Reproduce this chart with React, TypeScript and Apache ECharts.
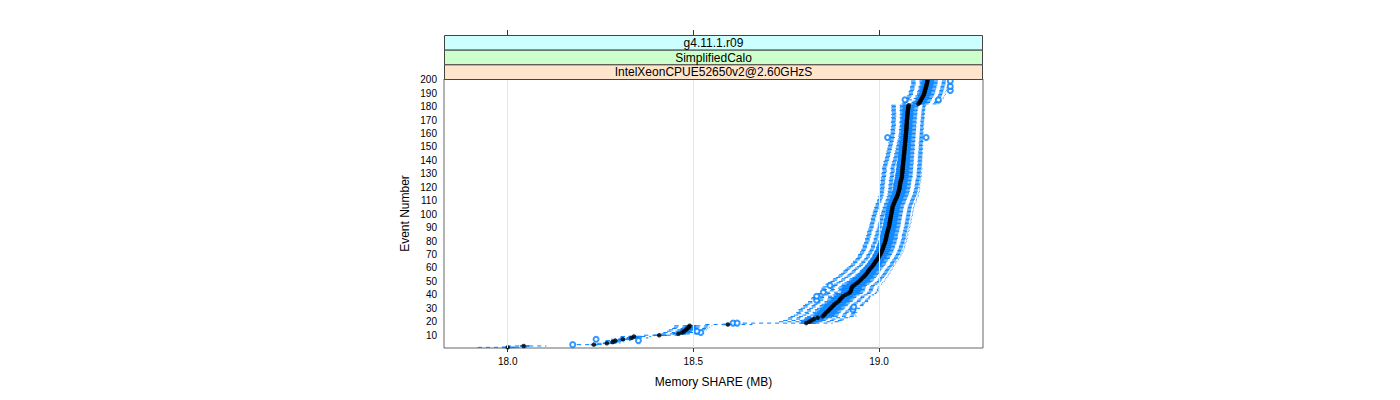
import React, { useEffect, useRef } from "react";
import * as echarts from "echarts";

// ---- data ----
const stripLabels = ["g4.11.1.r09", "SimplifiedCalo", "IntelXeonCPUE52650v2@2.60GHzS"];
const xTickValues = [18.0, 18.5, 19.0];
const yTickValues = [10, 20, 30, 40, 50, 60, 70, 80, 90, 100, 110, 120, 130, 140, 150, 160, 170, 180, 190, 200];

// median per event (1..200), MB
const medians = [
  18.000, 18.043, 18.232, 18.267, 18.283, 18.290, 18.310, 18.333, 18.340, 18.408,
  18.460, 18.470, 18.475, 18.480, 18.484, 18.488, 18.490, 18.593, 18.804, 18.812,
  18.818, 18.825, 18.835, 18.848, 18.852, 18.855, 18.858, 18.863, 18.866, 18.870,
  18.873, 18.877, 18.880, 18.885, 18.890, 18.894, 18.896, 18.900, 18.903, 18.910,
  18.917, 18.922, 18.924, 18.925, 18.926, 18.928, 18.932, 18.937, 18.942, 18.946,
  18.950, 18.953, 18.957, 18.961, 18.964, 18.967, 18.970, 18.972, 18.975, 18.978,
  18.981, 18.984, 18.987, 18.989, 18.991, 18.994, 18.997, 18.999, 19.001, 19.003,
  19.005, 19.007, 19.008, 19.010, 19.011, 19.012, 19.013, 19.015, 19.016, 19.017,
  19.018, 19.019, 19.020, 19.020, 19.021, 19.022, 19.023, 19.024, 19.025, 19.026,
  19.027, 19.028, 19.028, 19.029, 19.030, 19.030, 19.031, 19.032, 19.032, 19.033,
  19.034, 19.034, 19.035, 19.036, 19.036, 19.037, 19.039, 19.040, 19.042, 19.043,
  19.045, 19.047, 19.048, 19.050, 19.051, 19.052, 19.053, 19.054, 19.055, 19.056,
  19.056, 19.057, 19.057, 19.058, 19.059, 19.060, 19.061, 19.062, 19.062, 19.062,
  19.063, 19.063, 19.063, 19.064, 19.064, 19.064, 19.065, 19.065, 19.065, 19.066,
  19.066, 19.067, 19.067, 19.067, 19.068, 19.068, 19.068, 19.069, 19.069, 19.069,
  19.070, 19.070, 19.070, 19.071, 19.071, 19.071, 19.072, 19.072, 19.072, 19.073,
  19.073, 19.073, 19.074, 19.074, 19.074, 19.074, 19.075, 19.075, 19.075, 19.075,
  19.076, 19.076, 19.076, 19.077, 19.077, 19.077, 19.078, 19.078, 19.079, 19.079,
  19.080, 19.106, 19.109, 19.111, 19.113, 19.115, 19.117, 19.119, 19.121, 19.122,
  19.123, 19.124, 19.125, 19.126, 19.127, 19.128, 19.129, 19.130, 19.130, 19.131,
];

// distances from the median, in thousandths of a MB
const whiskerLowOff = [
  80, 45, 45, 25, 20, 25, 30, 30, 35, 40,
  45, 50, 45, 45, 40, 40, 40, 60, 170, 80,
  75, 70, 78, 85, 80, 75, 80, 78, 82, 80,
  76, 80, 78, 75, 80, 55, 78, 80, 62, 78,
  80, 65, 78, 76, 80, 78, 55, 80, 78, 76,
  74, 75, 72, 70, 70, 68, 66, 66, 65, 64,
  62, 60, 61, 58, 60, 57, 58, 56, 57, 58,
  56, 57, 55, 56, 54, 55, 56, 54, 55, 53,
  54, 55, 53, 54, 52, 53, 54, 52, 53, 51,
  52, 53, 51, 52, 50, 51, 52, 50, 51, 49,
  50, 48, 49, 47, 48, 46, 47, 48, 46, 47,
  48, 47, 49, 48, 50, 49, 51, 50, 52, 51,
  52, 53, 51, 52, 54, 53, 55, 54, 53, 55,
  54, 52, 53, 55, 54, 52, 53, 51, 52, 50,
  49, 50, 48, 47, 49, 46, 47, 45, 46, 44,
  45, 43, 44, 42, 43, 41, 40, 42, 41, 40,
  41, 40, 42, 40, 41, 39, 40, 42, 41, 40,
  41, 42, 40, 43, 41, 42, 44, 43, 45, 44,
  46, 44, 43, 42, 35, 43, 41, 42, 40, 41,
  42, 41, 40, 41, 42, 40, 41, 42, 43, 42,
];
const boxLowOff = [
  15, 10, 8, 10, 8, 10, 12, 12, 14, 15,
  15, 15, 14, 15, 12, 12, 12, 15, 15, 22,
  25, 24, 26, 25, 26, 24, 25, 26, 25, 26,
  24, 25, 26, 24, 25, 22, 25, 26, 24, 25,
  26, 24, 25, 24, 26, 25, 22, 25, 24, 25,
  24, 23, 22, 22, 21, 21, 20, 20, 20, 19,
  19, 20, 19, 18, 19, 18, 19, 18, 18, 19,
  18, 19, 18, 17, 18, 18, 17, 18, 17, 18,
  17, 18, 17, 17, 16, 17, 18, 16, 17, 16,
  17, 16, 17, 16, 16, 17, 16, 15, 16, 16,
  16, 15, 16, 15, 16, 15, 16, 15, 16, 15,
  16, 16, 17, 16, 17, 16, 17, 16, 17, 17,
  17, 18, 17, 17, 18, 17, 18, 17, 18, 17,
  17, 16, 17, 17, 16, 16, 17, 16, 16, 15,
  15, 16, 15, 15, 16, 15, 14, 15, 14, 15,
  14, 14, 15, 14, 14, 13, 14, 14, 13, 14,
  13, 14, 13, 13, 14, 13, 13, 14, 13, 13,
  14, 13, 14, 14, 13, 14, 14, 15, 14, 15,
  15, 14, 14, 13, 14, 14, 13, 14, 14, 13,
  14, 13, 14, 14, 13, 14, 13, 14, 14, 13,
];
const boxHighOff = [
  20, 15, 10, 15, 12, 15, 18, 18, 20, 20,
  20, 20, 18, 20, 18, 18, 18, 15, 25, 25,
  28, 26, 28, 30, 28, 27, 28, 25, 28, 27,
  26, 28, 27, 26, 28, 25, 27, 28, 26, 27,
  28, 25, 27, 26, 27, 26, 25, 26, 25, 26,
  25, 24, 24, 23, 23, 22, 22, 22, 21, 21,
  21, 22, 21, 20, 21, 20, 21, 20, 20, 21,
  20, 21, 20, 20, 21, 20, 20, 21, 20, 20,
  20, 21, 20, 20, 19, 20, 21, 19, 20, 19,
  20, 19, 20, 19, 19, 20, 19, 19, 20, 19,
  19, 20, 19, 19, 20, 19, 19, 20, 19, 19,
  19, 18, 19, 18, 19, 18, 19, 18, 18, 19,
  18, 18, 19, 18, 18, 17, 18, 18, 17, 18,
  17, 18, 17, 17, 18, 17, 17, 18, 17, 17,
  17, 16, 17, 16, 17, 16, 16, 17, 16, 16,
  16, 16, 15, 16, 16, 15, 16, 15, 16, 15,
  15, 16, 15, 15, 16, 15, 15, 16, 15, 15,
  16, 15, 16, 15, 16, 15, 16, 15, 16, 16,
  16, 17, 18, 17, 18, 17, 18, 18, 17, 18,
  18, 17, 18, 18, 17, 18, 18, 17, 18, 17,
];
const whiskerHighOff = [
  50, 60, 20, 35, 30, 40, 40, 45, 45, 50,
  50, 35, 20, 55, 55, 55, 60, 65, 70, 80,
  85, 80, 85, 90, 85, 80, 82, 60, 60, 78,
  55, 80, 78, 76, 80, 75, 78, 75, 74, 76,
  75, 72, 74, 72, 72, 70, 70, 70, 68, 68,
  66, 65, 64, 63, 62, 62, 60, 60, 60, 58,
  58, 57, 58, 56, 57, 58, 56, 57, 58, 56,
  57, 58, 56, 57, 58, 56, 57, 55, 56, 57,
  56, 57, 55, 56, 57, 55, 56, 57, 55, 56,
  57, 55, 56, 58, 56, 57, 55, 56, 58, 57,
  56, 57, 58, 56, 57, 58, 57, 56, 58, 57,
  56, 55, 57, 56, 54, 55, 56, 54, 55, 53,
  54, 52, 53, 54, 52, 53, 51, 52, 53, 51,
  52, 50, 51, 52, 50, 51, 49, 50, 51, 49,
  50, 49, 48, 50, 48, 49, 47, 48, 49, 47,
  48, 46, 47, 48, 46, 47, 45, 46, 47, 45,
  46, 44, 45, 46, 44, 45, 46, 44, 45, 46,
  45, 46, 44, 45, 46, 44, 45, 46, 44, 45,
  46, 55, 56, 57, 40, 58, 56, 57, 58, 56,
  57, 58, 56, 57, 58, 56, 57, 58, 56, 55,
];

const outlierEvents = [3, 6, 7, 12, 13, 19, 19, 29, 31, 36, 39, 42, 47, 157, 157, 185, 185, 192, 195, 199];
const outlierValues = [18.175, 18.352, 18.238, 18.520, 18.510, 18.607, 18.618, 18.930, 18.932, 18.832, 18.832, 18.850, 18.868, 19.023, 19.127, 19.070, 19.160, 19.192, 19.192, 19.192];

// ---- layout ----
const GRID = { left: 444, top: 79, width: 539, height: 269 };
const STRIP_H = 44 / 3;
const FONT = "'Liberation Sans', Arial, Helvetica, sans-serif";
const BLUE = "#0080ff";
const stripColors = ["#ccffff", "#ccffcc", "#ffe5cc"];

export default function App() {
  const ref = useRef<HTMLDivElement>(null);

  useEffect(() => {
    if (!ref.current) return;
    const chart = echarts.init(ref.current, undefined, { renderer: "svg" });

    const boxData = medians.map((m, i) => [
      i + 1,
      m - whiskerLowOff[i] / 1000,
      m - boxLowOff[i] / 1000,
      m,
      m + boxHighOff[i] / 1000,
      m + whiskerHighOff[i] / 1000,
    ]);
    const medianData = medians.map((m, i) => [m, i + 1]);
    const outlierData = outlierEvents.map((e, i) => [outlierValues[i], e]);

    const strips: any[] = [];
    stripLabels.forEach((label, i) => {
      const y = GRID.top - 3 * STRIP_H + i * STRIP_H;
      strips.push({
        type: "rect",
        shape: { x: GRID.left + 0.5, y: y + 0.5, width: GRID.width - 1, height: STRIP_H },
        style: { fill: stripColors[i], stroke: "#444", lineWidth: 1 },
        z: 10,
      });
      strips.push({
        type: "text",
        x: GRID.left + GRID.width / 2,
        y: y + STRIP_H / 2 + 0.5,
        style: {
          text: label,
          fontSize: 12,
          fontFamily: FONT,
          fill: "#000",
          align: "center",
          verticalAlign: "middle",
        },
        z: 11,
      });
    });

    const option: any = {
      animation: false,
      backgroundColor: "#fff",
      grid: {
        ...GRID,
        show: true,
        borderColor: "#666",
        borderWidth: 1,
        backgroundColor: "transparent",
        containLabel: false,
      },
      xAxis: [
        {
          type: "value",
          min: 17.8284,
          max: 19.2801,
          position: "bottom",
          name: "Memory SHARE (MB)",
          nameLocation: "middle",
          nameGap: 28,
          nameTextStyle: { fontSize: 12, fontFamily: FONT, color: "#000" },
          axisLine: { show: false },
          axisTick: { show: true, length: 4, customValues: xTickValues, lineStyle: { color: "#333" } },
          axisLabel: {
            show: true,
            customValues: xTickValues,
            fontSize: 10,
            fontFamily: FONT,
            color: "#000",
            margin: 8,
            formatter: (v: number) => v.toFixed(1),
          },
          splitLine: { show: false },
        },
        {
          type: "value",
          min: 17.8284,
          max: 19.2801,
          position: "top",
          offset: 44,
          axisLine: { show: false },
          axisTick: { show: true, length: 5, customValues: xTickValues, lineStyle: { color: "#333" } },
          axisLabel: { show: false },
          splitLine: { show: false },
        },
      ],
      yAxis: {
        type: "value",
        min: 0.5,
        max: 200.5,
        name: "Event Number",
        nameLocation: "middle",
        nameGap: 33,
        nameTextStyle: { fontSize: 12, fontFamily: FONT, color: "#000" },
        axisLine: { show: false },
        axisTick: { show: false },
        axisLabel: {
          show: true,
          customValues: yTickValues,
          fontSize: 10,
          fontFamily: FONT,
          color: "#000",
          margin: 7,
          formatter: (v: number) => String(v),
        },
        splitLine: { show: false },
      },
      graphic: strips,
      series: [
        {
          type: "scatter",
          data: [],
          z: 1,
          silent: true,
          markLine: {
            silent: true,
            symbol: "none",
            label: { show: false },
            lineStyle: { color: "#e6e6e6", type: "solid", width: 1 },
            data: xTickValues.map((v) => ({ xAxis: v })),
          },
        },
        {
          type: "custom",
          z: 2,
          silent: true,
          data: boxData,
          encode: { x: [1, 2, 3, 4, 5], y: 0 },
          renderItem: (params: any, api: any) => {
            const ev = api.value(0);
            const pLo = api.coord([api.value(1), ev]);
            const pQ1 = api.coord([api.value(2), ev]);
            const pQ3 = api.coord([api.value(4), ev]);
            const pHi = api.coord([api.value(5), ev]);
            const band = api.size([0, 1])[1];
            const h = band * 0.5;
            const y = pQ1[1];
            const dash = { stroke: BLUE, lineWidth: 1, lineDash: [4, 4], fill: "none" };
            const solid = { stroke: BLUE, lineWidth: 1, fill: "none" };
            return {
              type: "group",
              children: [
                { type: "line", shape: { x1: pLo[0], y1: y, x2: pQ1[0], y2: y }, style: dash },
                { type: "line", shape: { x1: pQ3[0], y1: y, x2: pHi[0], y2: y }, style: dash },
                { type: "line", shape: { x1: pLo[0], y1: y - h / 2, x2: pLo[0], y2: y + h / 2 }, style: solid },
                { type: "line", shape: { x1: pHi[0], y1: y - h / 2, x2: pHi[0], y2: y + h / 2 }, style: solid },
                {
                  type: "rect",
                  shape: { x: pQ1[0], y: y - h / 2, width: pQ3[0] - pQ1[0], height: h },
                  style: solid,
                },
              ],
            };
          },
        },
        {
          type: "scatter",
          z: 3,
          silent: true,
          data: outlierData,
          symbol: "emptyCircle",
          symbolSize: 5,
          itemStyle: { color: BLUE, borderColor: BLUE, borderWidth: 0.8 },
        },
        {
          type: "scatter",
          z: 4,
          silent: true,
          data: medianData,
          symbol: "circle",
          symbolSize: 4.5,
          itemStyle: { color: "#000" },
        },
      ],
    };

    chart.setOption(option);
    return () => chart.dispose();
  }, []);

  return (
    <div
      ref={ref}
      style={{ position: "fixed", left: 0, top: 0, width: 1400, height: 400, background: "#fff" }}
    />
  );
}
